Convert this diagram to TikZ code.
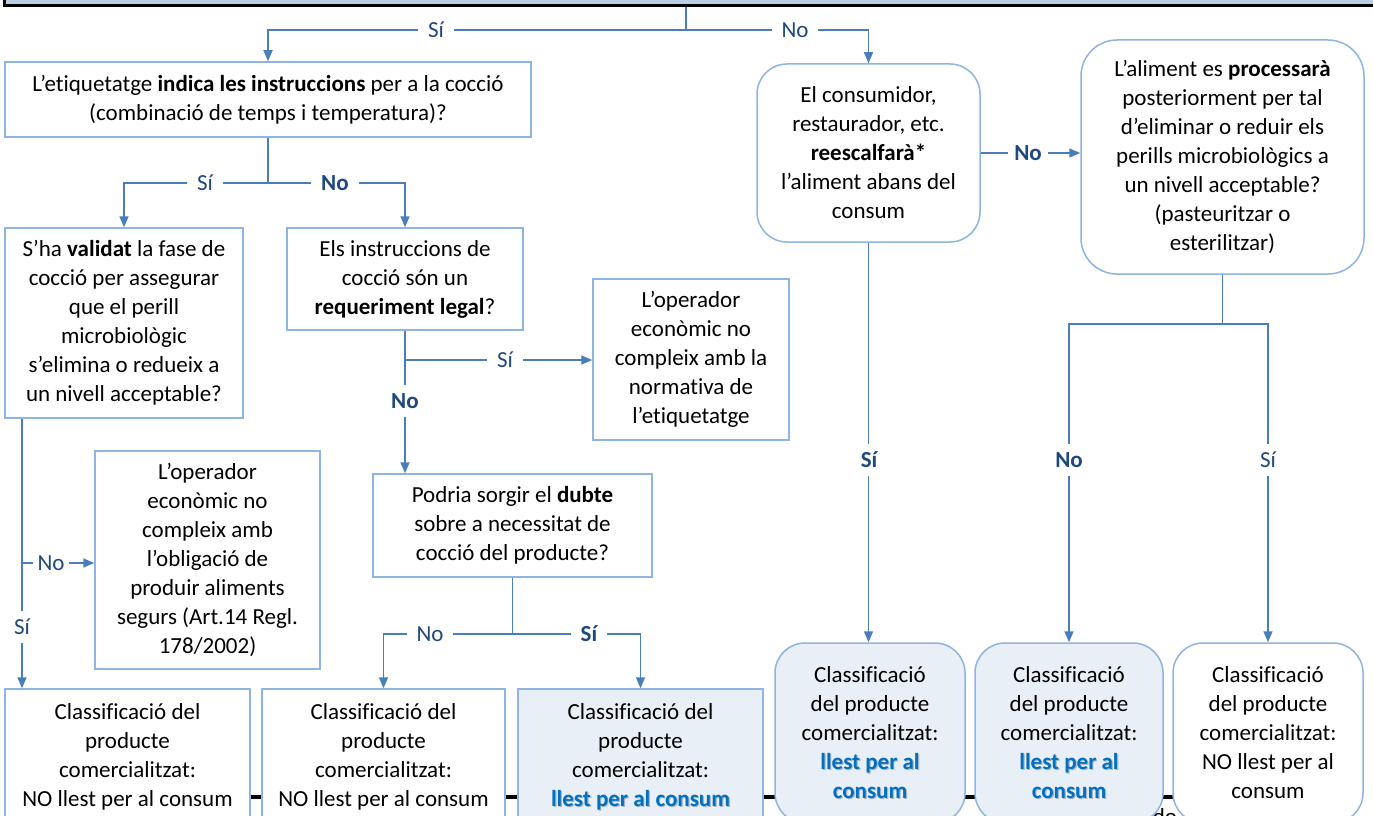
\documentclass[tikz,border=0pt]{standalone}
\usepackage{fontspec}
\setmainfont[Ligatures=NoCommon]{Carlito}
\usetikzlibrary{arrows.meta}
\definecolor{boxline}{RGB}{141,180,226}
\definecolor{conn}{RGB}{74,126,187}
\definecolor{labc}{RGB}{31,73,125}
\definecolor{hifill}{RGB}{233,239,247}
\definecolor{banfill}{RGB}{185,205,229}
\definecolor{okblue}{RGB}{0,112,192}
\definecolor{okshadow}{RGB}{170,180,195}
\newcommand\okt[1]{\leavevmode\rlap{\kern1.2pt\raisebox{-1.2pt}{\textcolor{okshadow}{\textbf{#1}}}}\textcolor{okblue}{\textbf{#1}}}
\begin{document}
\begin{tikzpicture}[x=1pt,y=-1pt,
  every node/.style={font=\fontsize{23}{29}\selectfont},
  qbox/.style={draw=boxline, line width=1.5pt, fill=white, align=center, inner sep=0pt},
  rbox/.style={qbox, rounded corners=30pt},
  hibox/.style={fill=hifill},
  line/.style={draw=conn, line width=1.6pt},
  arrow/.style={line, -{Triangle[length=11pt,width=9pt]}},
  lab/.style={fill=white, text=labc, inner xsep=10pt, inner ysep=8pt},
  blab/.style={lab, font=\fontsize{23}{29}\selectfont\bfseries}
]
\useasboundingbox (0,0) rectangle (1373,816);
\clip (0,0) rectangle (1373,816);

% banner
\node[draw=black, line width=3pt, fill=banfill, minimum width=1420pt, minimum height=40pt, anchor=south west, inner sep=0pt] (banner) at (3,7) {};

% background line and partial text
\draw[black, line width=4pt] (240,797) -- (1185,797);
\node[anchor=base, inner sep=0pt] (dotext) at (1165,824) {do};

% left side boxes
\node[qbox, minimum width=526pt, minimum height=75pt] (q1) at (268,99.5)
  {L’etiquetatge \textbf{indica les instruccions} per a la cocció\\(combinació de temps i temperatura)?};
\node[qbox, minimum width=238pt, minimum height=190pt] (q2) at (124,323)
  {S’ha \textbf{validat} la fase de\\cocció per assegurar\\que el perill\\microbiològic\\s’elimina o redueix a\\un nivell acceptable?};
\node[qbox, minimum width=236pt, minimum height=102pt] (q3) at (405,279)
  {Els instruccions de\\cocció són un\\\textbf{requeriment legal}?};
\node[qbox, minimum width=196pt, minimum height=161pt] (o1) at (691,359.5)
  {L’operador\\econòmic no\\compleix amb la\\normativa de\\l’etiquetatge};
\node[qbox, minimum width=279pt, minimum height=103pt] (q4) at (512.5,525.5)
  {Podria sorgir el \textbf{dubte}\\sobre a necessitat de\\cocció del producte?};
\node[qbox, minimum width=225pt, minimum height=218pt] (o2) at (207.5,560)
  {L’operador\\econòmic no\\compleix amb\\l’obligació de\\produir aliments\\segurs (Art.14 Regl.\\178/2002)};

% bottom rectangular boxes
\node[qbox, minimum width=245pt, minimum height=136pt] (c1) at (127.5,757)
  {Classificació del\\producte\\comercialitzat:\\NO llest per al consum};
\node[qbox, minimum width=243pt, minimum height=136pt] (c2) at (383.5,757)
  {Classificació del\\producte\\comercialitzat:\\NO llest per al consum};
\node[qbox, hibox, minimum width=245pt, minimum height=136pt] (c3) at (640.5,757)
  {Classificació del\\producte\\comercialitzat:\\\okt{llest per al consum}};

% right side
\node[rbox, minimum width=223pt, minimum height=178pt] (r1) at (868.5,153)
  {El consumidor,\\restaurador, etc.\\\textbf{reescalfarà*}\\l’aliment abans del\\consum};
\node[rbox, rounded corners=36pt, minimum width=283pt, minimum height=234pt] (r2) at (1222.5,157)
  {L’aliment es \textbf{processarà}\\posteriorment per tal\\d’eliminar o reduir els\\perills microbiològics a\\un nivell acceptable?\\(pasteuritzar o\\esterilitzar)};

\node[rbox, hibox, minimum width=190pt, minimum height=180pt] (b1) at (870,733)
  {Classificació\\del producte\\comercialitzat:\\\okt{llest per al}\\\okt{consum}};
\node[rbox, hibox, minimum width=188pt, minimum height=180pt] (b2) at (1069,733)
  {Classificació\\del producte\\comercialitzat:\\\okt{llest per al}\\\okt{consum}};
\node[rbox, minimum width=190pt, minimum height=180pt] (b3) at (1268,733)
  {Classificació\\del producte\\comercialitzat:\\NO llest per al\\consum};

% connectors
\coordinate (j0) at (686,30);
\draw[line] (banner.south -| j0) -- (j0);
\draw[arrow] (j0) -| (q1.north);
\draw[arrow] (j0) -| (r1.north);

\coordinate (j1) at (268,183);
\draw[line] (q1.south) -- (j1);
\draw[arrow] (j1) -| (q2.north);
\draw[arrow] (j1) -| (q3.north);

\coordinate (j2) at (22,563);
\draw[line] (q2.south -| j2) -- (j2);
\draw[arrow] (j2) -- (j2 -| o2.west);
\draw[arrow] (j2) -- (j2 |- c1.north);

\coordinate (j3) at (405,360);
\draw[line] (q3.south) -- (j3);
\draw[arrow] (j3) -- (j3 -| o1.west);
\draw[arrow] (j3) -- (j3 |- q4.north);

\coordinate (j4) at (512.5,634);
\draw[line] (q4.south) -- (j4);
\draw[arrow] (j4) -| (c2.north);
\draw[arrow] (j4) -| (c3.north);

\draw[arrow] (r1.east) -- (r1.east -| r2.west);
\draw[arrow] (r1.south) -- (r1.south |- b1.north);

\coordinate (j5) at (1222.5,324);
\draw[line] (r2.south) -- (j5);
\draw[arrow] (j5) -| (b2.north);
\draw[arrow] (j5) -| (b3.north);

% labels
\node[lab] (l1) at (436,30) {Sí};
\node[lab] (l2) at (795,30) {No};
\node[lab] (l3) at (205,183) {Sí};
\node[blab] (l4) at (335,183) {No};
\node[lab, inner xsep=5pt] (l5) at (51,563) {No};
\node[lab] (l6) at (22,627) {Sí};
\node[lab] (l7) at (505,360) {Sí};
\node[blab] (l8) at (405,401) {No};
\node[lab] (l9) at (430,634) {No};
\node[blab] (l10) at (589,634) {Sí};
\node[blab, inner xsep=6pt] (l11) at (1028,153) {No};
\node[blab] (l12) at (869,460) {Sí};
\node[blab] (l13) at (1069,460) {No};
\node[lab] (l14) at (1268,460) {Sí};
\end{tikzpicture}
\end{document}
